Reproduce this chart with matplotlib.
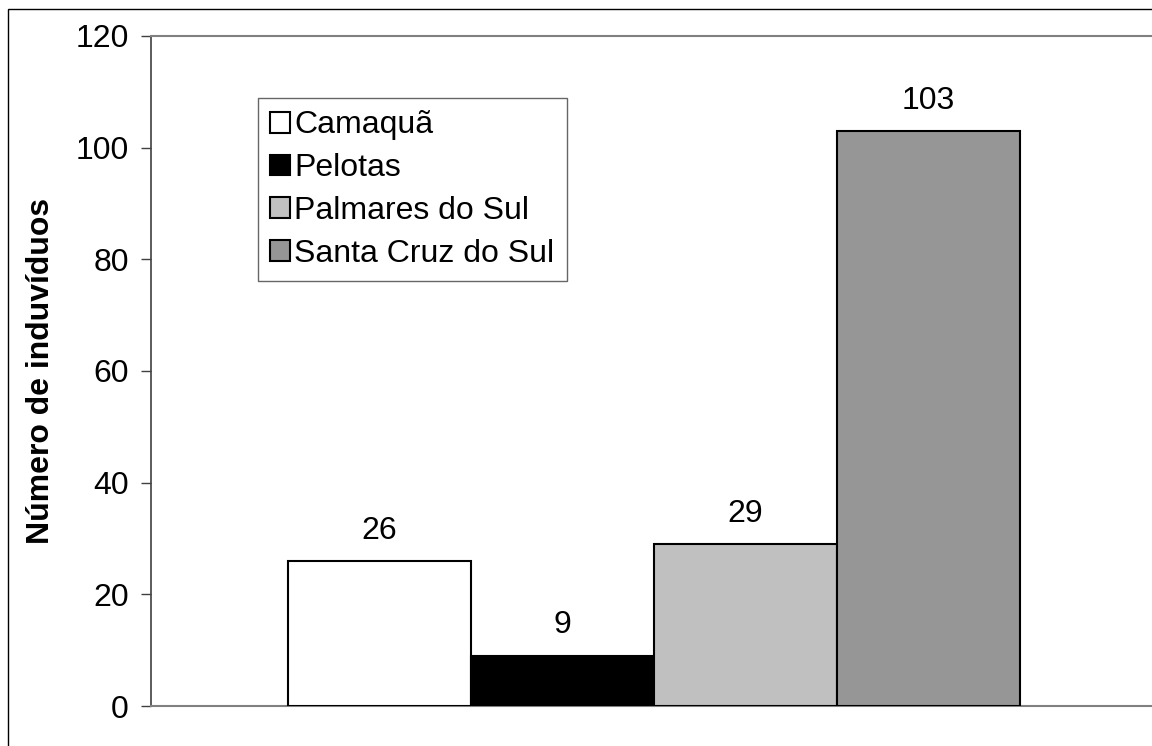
import matplotlib.pyplot as plt
from matplotlib.patches import Rectangle

# data
locais = ['Camaquã', 'Pelotas', 'Palmares do Sul', 'Santa Cruz do Sul']
individuos = [26, 9, 29, 103]
cores = ['#ffffff', '#000000', '#c0c0c0', '#969696']
y_ticks = [0, 20, 40, 60, 80, 100, 120]
y_label = 'Número de induvíduos'

plt.rcParams['font.family'] = ['Liberation Sans', 'DejaVu Sans']
fs = 23

fig = plt.figure(figsize=(11.52, 7.46), dpi=100)
# the plot area runs a few pixels past the right edge of the picture
ax = fig.add_axes([151 / 1152, 40 / 746, 1006 / 1152, 670 / 746])

largura = 0.182
n = len(locais)
for i, (nome, valor, cor) in enumerate(zip(locais, individuos, cores)):
    pos = 0.5 + (i - (n - 1) / 2) * largura
    barras = ax.bar(pos, valor, width=largura, color=cor, edgecolor='black',
                    linewidth=1.5, label=nome, zorder=3)
    ax.bar_label(barras, padding=11, fontsize=fs)

ax.set_xlim(0, 1)
ax.set_ylim(0, 120)
ax.set_yticks(y_ticks)
ax.set_xticks([])
ax.tick_params(axis='y', labelsize=fs, length=7, width=1, color='#404040',
               pad=9, direction='out')

for lado in ['top', 'bottom']:
    ax.spines[lado].set_color('#808080')
    ax.spines[lado].set_linewidth(1.5)
ax.spines['left'].set_color('#404040')
ax.spines['left'].set_linewidth(1.2)
ax.spines['right'].set_visible(False)

ax.set_ylabel(y_label, fontsize=fs, fontweight='bold')
ax.yaxis.set_label_coords(-0.094, 0.5)

leg = ax.legend(loc='upper left', bbox_to_anchor=(0.106, 0.907),
                borderaxespad=0, fontsize=fs, frameon=True, fancybox=False,
                handlelength=0.62, handleheight=0.62, handletextpad=0.15,
                labelspacing=0.40, borderpad=0.38)
leg.get_frame().set_edgecolor('#404040')
leg.get_frame().set_linewidth(1.0)
for h in leg.legend_handles:
    h.set_linewidth(1.5)

# outer chart frame (cut off at right and bottom)
fig.add_artist(Rectangle((8 / 1152, -0.1), 1.2, (746 - 9) / 746 + 0.1,
                         transform=fig.transFigure, fill=False,
                         edgecolor='black', linewidth=1.0))

fig.savefig('out.png', dpi=100)
